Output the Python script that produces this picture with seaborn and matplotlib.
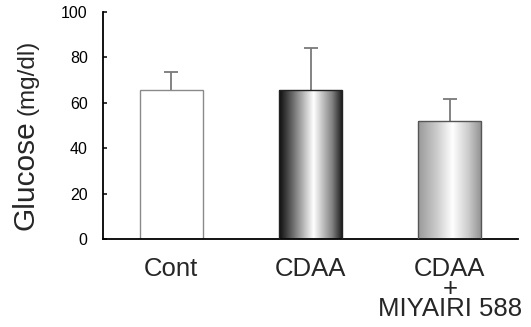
import numpy as np
import pandas as pd
import matplotlib
matplotlib.use("Agg")
import matplotlib.pyplot as plt
from matplotlib.colors import LinearSegmentedColormap
import seaborn as sns

# values
groups = ["Cont", "CDAA", "CDAA\n+\nMIYAIRI 588"]
glucose_mean = [65.5, 65.5, 52.0]
glucose_sd = [8.0, 18.5, 9.5]
y_ticks = [0, 20, 40, 60, 80, 100]

sns.set_style("ticks")
plt.rcParams['font.family'] = ['Liberation Sans', 'DejaVu Sans']

df = pd.DataFrame({"group": groups, "glucose": glucose_mean})

fig = plt.figure(figsize=(5.31, 3.27), dpi=100)
ax = fig.add_axes([0.194, 0.269, 0.7815, 0.694])

sns.barplot(data=df, x="group", y="glucose", order=groups, color="white",
            width=0.45, errorbar=None, ax=ax, zorder=2)

# bar edges and gradient fills
edge_colors = ["#8a8a8a", "#222222", "#555555"]
gradients = [
    None,
    [(0.0, 0.05), (0.15, 0.3), (0.55, 1.0), (0.85, 0.5), (1.0, 0.12)],
    [(0.0, 0.6), (0.3, 0.8), (0.55, 1.0), (0.8, 0.8), (1.0, 0.58)],
]
grad = np.linspace(0, 1, 256).reshape(1, -1)
for patch, ec, stops in zip(ax.patches, edge_colors, gradients):
    patch.set_edgecolor(ec)
    patch.set_linewidth(1.0)
    if stops is None:
        continue
    cmap = LinearSegmentedColormap.from_list(
        "g", [(p, (v, v, v)) for p, v in stops])
    x0 = patch.get_x()
    x1 = x0 + patch.get_width()
    h = patch.get_height()
    im = ax.imshow(grad, extent=[x0, x1, 0, h], aspect="auto", cmap=cmap,
                   origin="lower", zorder=2.5, interpolation="bilinear")
    im.set_clip_path(patch)
    # outline above the image
    patch.set_zorder(3)
    patch.set_facecolor("none")

# upper-only error bars
centers = [p.get_x() + p.get_width() / 2 for p in ax.patches]
eb = ax.errorbar(centers, glucose_mean,
                 yerr=[np.zeros(len(glucose_sd)), glucose_sd],
                 fmt="none", ecolor="#7a7a7a", elinewidth=1.3, capsize=4.7,
                 capthick=1.3, zorder=1)
eb[1][0].set_visible(False)  # no cap at the bar top

ax.set_xlim(-0.49, 2.49)
ax.set_ylim(0, 100)
ax.set_yticks(y_ticks)
ax.set_xlabel("")
ax.set_ylabel("")
sns.despine(ax=ax)
for s in ["left", "bottom"]:
    ax.spines[s].set_linewidth(1.3)
    ax.spines[s].set_color("black")
ax.tick_params(axis="y", direction="in", length=3, width=1.1, pad=11,
               labelsize=11.5, colors="black")
ax.tick_params(axis="x", length=0, pad=13, labelsize=18.5)
for lbl in ax.get_xticklabels():
    lbl.set_linespacing(0.8)
    lbl.set_verticalalignment("top")

# y axis title with two sizes
fig.text(0.064, 1 - 230 / 327, "Glucose", rotation=90, rotation_mode="anchor",
         ha="left", va="baseline", fontsize=21.5)
fig.text(0.064, 1 - 115 / 327, "(mg/dl)", rotation=90, rotation_mode="anchor",
         ha="left", va="baseline", fontsize=17.5)

fig.savefig("out.png", dpi=100)
